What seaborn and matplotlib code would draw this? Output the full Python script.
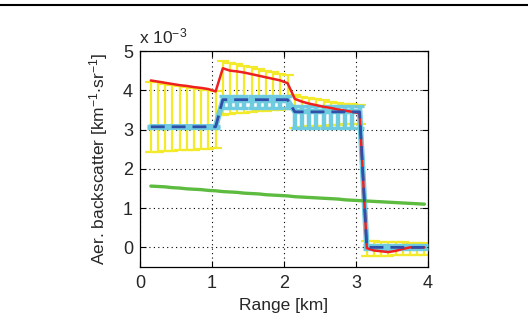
import numpy as np
import pandas as pd
import matplotlib
matplotlib.use("Agg")
import matplotlib.pyplot as plt
import seaborn as sns

# ---- data (backscatter in units of 1e-3 km^-1 sr^-1) ----
range_km = np.round(np.arange(0.15, 4.0, 0.1), 2)  # 39 range bins

red_retrieval = [4.25, 4.22, 4.19, 4.16, 4.13, 4.11, 4.08, 4.06, 4.03, 3.97,
                 4.56, 4.50, 4.48, 4.45, 4.41, 4.37, 4.33, 4.29, 4.25, 4.18,
                 3.78, 3.71, 3.66, 3.62, 3.58, 3.55, 3.51, 3.48, 3.45, 3.42,
                 -0.02, -0.08, -0.10, -0.12, -0.09, -0.04, 0.0, 0.0, 0.0]
yellow_hi = [4.22, 4.20, 4.17, 4.14, 4.11, 4.09, 4.06, 4.04, 4.01, 3.98,
             4.75, 4.70, 4.66, 4.62, 4.58, 4.54, 4.50, 4.46, 4.42, 4.38,
             3.88, 3.84, 3.80, 3.77, 3.74, 3.71, 3.68, 3.66, 3.64, 3.62,
             0.15, 0.15, 0.14, 0.14, 0.13, 0.13, 0.12, 0.12, 0.12]
yellow_lo = [2.43, 2.44, 2.45, 2.46, 2.47, 2.48, 2.49, 2.50, 2.51, 2.53,
             3.38, 3.40, 3.41, 3.43, 3.44, 3.46, 3.47, 3.49, 3.50, 3.52,
             3.05, 3.06, 3.08, 3.09, 3.10, 3.11, 3.12, 3.13, 3.14, 3.15,
             -0.22, -0.22, -0.21, -0.21, -0.20, -0.20, -0.20, -0.19, -0.19]
cyan_mean = [3.07] * 10 + [3.74] * 10 + [3.46] * 10 + [0.0] * 9
cyan_hi = [3.09] * 10 + [3.86] * 10 + [3.61] * 10 + [0.05] * 9
cyan_lo = [3.05] * 10 + [3.54] * 10 + [3.04] * 10 + [-0.05] * 9
true_profile = [3.07] * 10 + [3.76] * 10 + [3.45] * 10 + [0.0] * 9
molecular = [1.56, 1.55, 1.54, 1.52, 1.51, 1.49, 1.48, 1.47, 1.45, 1.44,
             1.42, 1.41, 1.40, 1.38, 1.37, 1.36, 1.34, 1.33, 1.32, 1.31,
             1.29, 1.28, 1.27, 1.26, 1.25, 1.24, 1.23, 1.21, 1.20, 1.19,
             1.18, 1.17, 1.16, 1.15, 1.14, 1.13, 1.12, 1.11, 1.10]

x_ticks = [0, 1, 2, 3, 4]
y_ticks = [0, 1, 2, 3, 4, 5]

df = pd.DataFrame({
    "range": range_km, "red": red_retrieval, "ylo": yellow_lo, "yhi": yellow_hi,
    "cyan": cyan_mean, "clo": cyan_lo, "chi": cyan_hi,
    "true": true_profile, "mol": molecular,
})

sns.set_theme(style="white")
plt.rcParams["font.family"] = ["Liberation Sans", "DejaVu Sans"]
plt.rcParams["mathtext.default"] = "regular"
plt.rcParams["xtick.direction"] = "in"
plt.rcParams["ytick.direction"] = "in"

fig = plt.figure(figsize=(5.28, 3.31), dpi=100)
ax = fig.add_axes([0.2652, 0.1934, 0.8106 - 0.2652, 0.8459 - 0.1934])

YELLOW = "#f2ea2a"
CYAN = "#6fcbdf"
RED = "#ee2020"
DBLUE = "#2f4fa8"
GREEN = "#5dbb3f"

# yellow error bars
yc = (df["ylo"] + df["yhi"]) / 2
ax.errorbar(df["range"], yc, yerr=[yc - df["ylo"], df["yhi"] - yc], fmt="none",
            ecolor=YELLOW, elinewidth=1.6, capsize=4, capthick=1.6, zorder=2)
# cyan error bars
cc = (df["clo"] + df["chi"]) / 2
ax.errorbar(df["range"], cc, yerr=[cc - df["clo"], df["chi"] - cc], fmt="none",
            ecolor=CYAN, elinewidth=3.2, capsize=3.2, capthick=2.4, zorder=3)

sns.lineplot(data=df, x="range", y="cyan", ax=ax, color=CYAN, linewidth=4.0, zorder=4)
sns.lineplot(data=df, x="range", y="red", ax=ax, color=RED, linewidth=1.8, zorder=5)
sns.lineplot(data=df, x="range", y="true", ax=ax, color=DBLUE, linewidth=2.0,
             dashes=False, zorder=6, linestyle=(0, (5, 2.5)))
sns.lineplot(data=df, x="range", y="mol", ax=ax, color=GREEN, linewidth=2.4, zorder=4)

ax.set_xlim(0, 4)
ax.set_ylim(-0.5, 5)
ax.set_xticks(x_ticks)
ax.set_yticks(y_ticks)
ax.set_xticklabels([str(t) for t in x_ticks], fontsize=13)
ax.set_yticklabels([str(t) for t in y_ticks], fontsize=13)
ax.tick_params(axis="x", length=4, width=0.8, color="black", pad=6,
               top=True, bottom=True)
ax.tick_params(axis="y", length=4, width=0.8, color="black", pad=5,
               left=True, right=True)
ax.grid(True, linestyle=(0, (1, 3)), color="black", linewidth=0.8)
for s in ax.spines.values():
    s.set_color("black")
    s.set_linewidth(0.9)
ax.set_xlabel("Range [km]", fontsize=12.5, labelpad=4)
ax.set_ylabel(r"Aer. backscatter [km$^{-1}$$\cdot$sr$^{-1}$]", fontsize=12.5, labelpad=9)
ax.text(-0.005, 1.02, r"x 10$^{-3}$", transform=ax.transAxes, fontsize=12.5,
        ha="left", va="bottom")

# page rule from the source document
fig.add_artist(plt.Line2D([0, 1], [1 - 5 / 331, 1 - 5 / 331], color="black",
                          linewidth=1.5, transform=fig.transFigure))

fig.savefig("out.png", dpi=100)
